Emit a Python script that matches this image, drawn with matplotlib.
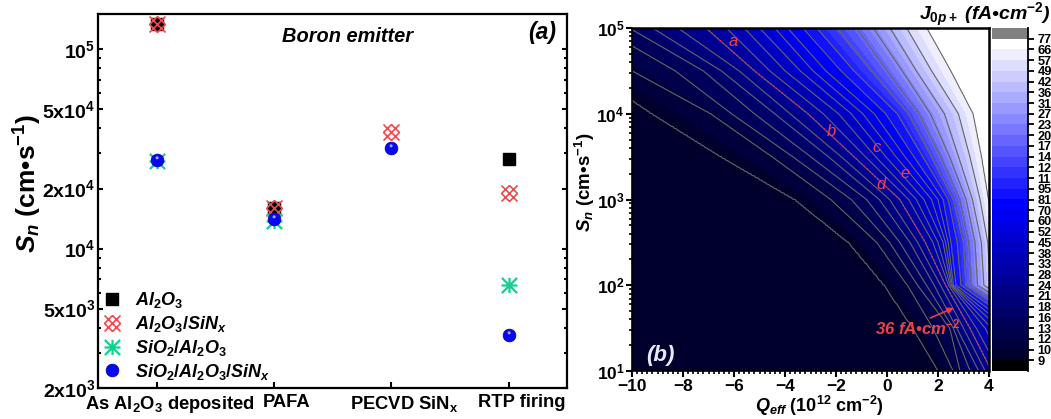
import numpy as np
import matplotlib
matplotlib.use("Agg")
import matplotlib.pyplot as plt
from matplotlib.path import Path
from matplotlib.ticker import FixedLocator, MultipleLocator, NullFormatter, FixedFormatter
from matplotlib.transforms import ScaledTranslation

plt.rcParams.update({
    "font.family": ["Liberation Sans", "DejaVu Sans"], "font.weight": "bold",
    "mathtext.fontset": "custom", "mathtext.rm": "Liberation Sans:bold",
    "mathtext.it": "Liberation Sans:italic:bold", "mathtext.bf": "Liberation Sans:bold",
    "mathtext.default": "rm",
})

# ---------- panel (a) data ----------
categories = [r"As Al$_2$O$_3$ deposited", "PAFA", r"PECVD SiN$_x$", "RTP firing"]
al2o3 = [133000, 16000, np.nan, 28000]
al2o3_sinx = [133000, 16000, 38500, 19000]
sio2_al2o3 = [27500, 13700, np.nan, 6600]
sio2_al2o3_sinx = [27800, 14000, 32000, 3680]
ytick_vals = [2e3, 5e3, 1e4, 2e4, 5e4, 1e5]
ytick_labels = [r"2x10$^3$", r"5x10$^3$", r"10$^4$", r"2x10$^4$", r"5x10$^4$", r"10$^5$"]

# ---------- panel (b) data: Qeff where contour lines 1..20 cross each Sn row ----------
log_sn_rows = [1, 1.5, 2, 2.5, 3, 3.5, 4, 4.5, 5]
q_s1_0 = [2.0, 2.6, 2.86, 3.26, 3.6, 3.85, 4.1, 4.4, 4.7, 5.0, 5.3, 5.6, 5.9, 6.2, 6.5, 6.8, 7.1, 7.4, 7.7, 8.0]
q_s1_5 = [1.02, 1.8, 2.47, 2.6, 2.73, 3.0, 3.25, 3.5, 3.85, 4.1, 4.4, 4.7, 5.0, 5.3, 5.6, 5.9, 6.2, 6.5, 6.8, 7.1]
q_s2_0 = [-0.1, 0.8, 1.2, 1.55, 1.85, 2.1, 2.3, 2.42, 2.48, 2.52, 2.56, 2.6, 2.7, 2.9, 3.1, 3.3, 3.55, 3.8, 4.05, 4.4]
q_s2_5 = [-1.5, -0.4, 0.1, 0.5, 0.9, 1.2, 1.5, 1.8, 2.0, 2.2, 2.3, 2.4, 2.5, 2.75, 3.0, 3.2, 3.45, 3.7, 3.95, 4.2]
q_s3_0 = [-3.6, -2.2, -1.4, -0.8, -0.3, 0.1, 0.5, 0.85, 1.15, 1.45, 1.75, 2.0, 2.2, 2.4, 2.6, 2.85, 3.1, 3.35, 3.65, 3.97]
q_s3_5 = [-6.5, -4.5, -3.7, -3.0, -2.3, -1.8, -1.3, -0.85, -0.45, -0.05, 0.35, 0.7, 1.05, 1.4, 1.75, 2.1, 2.45, 2.8, 3.25, 3.7]
q_s4_0 = [-9.2, -6.9, -6.1, -5.2, -4.4, -3.8, -3.1, -2.5, -1.9, -1.4, -0.95, -0.5, -0.05, 0.4, 0.85, 1.25, 1.7, 2.25, 2.8, 3.37]
q_s4_5 = [-11.7, -10.0, -8.3, -7.2, -6.5, -5.8, -5.2, -4.6, -4.0, -3.4, -2.9, -2.4, -1.8, -1.3, -0.6, 0.0, 0.6, 1.15, 1.75, 2.5]
q_s5_0 = [-14.0, -12.5, -11.2, -10.1, -9.2, -8.2, -7.1, -6.3, -5.6, -5.0, -4.4, -3.9, -3.3, -2.76, -1.97, -1.19, -0.54, 0.12, 0.77, 1.56]
line_numbers = list(range(1, 21))
cbar_labels = ["9", "10", "12", "13", "16", "18", "21", "24", "28", "33", "38", "45", "52", "60", "70", "81",
               "95", "11", "12", "14", "17", "20", "23", "27", "31", "36", "42", "49", "57", "66", "77"]

W, H = 1051, 419
fig = plt.figure(figsize=(W / 100, H / 100), dpi=100)


def box(x0, y0, x1, y1):
    return [x0 / W, 1 - y1 / H, (x1 - x0) / W, (y1 - y0) / H]


def ftext(x, y, s, **kw):
    kw.setdefault("ha", "center")
    kw.setdefault("va", "center")
    fig.text(x / W, 1 - y / H, s, **kw)


# ---------- markers ----------
def seg_path(segs):
    v, c = [], []
    for a, b in segs:
        v += [a, b]
        c += [Path.MOVETO, Path.LINETO]
    return Path(v, c)


lattice = seg_path([((-1, 0), (0, 1)), ((-.5, -.5), (.5, .5)), ((0, -1), (1, 0)),
                    ((-1, 0), (0, -1)), ((-.5, .5), (.5, -.5)), ((0, 1), (1, 0)),
                    ((-1, 1), (-.5, .5)), ((1, 1), (.5, .5)), ((-1, -1), (-.5, -.5)), ((1, -1), (.5, -.5))])
star = seg_path([((-1, -1), (1, 1)), ((-1, 1), (1, -1)), ((0, -1), (0, 1)), ((-1.05, 0), (1.05, 0))])
shine = Path.circle((-0.05, 0.35), 0.2)

RED, GREEN, BLUE = "#f2484e", "#12d08e", "#0808f0"
ax = fig.add_axes(box(98, 14, 567.5, 388))
xs = np.arange(len(categories))
h1, = ax.plot(xs, al2o3, "s", color="black", ms=8, ls="none", label=r"$\mathit{Al_2O_3}$")
h2, = ax.plot(xs, al2o3_sinx, marker=lattice, color=RED, mew=1.2, ms=11.5, ls="none", mfc="none",
              label=r"$\mathit{Al_2O_3/SiN_x}$")
h3, = ax.plot(xs, sio2_al2o3, marker=star, color=GREEN, mew=1.6, ms=11.5, ls="none",
              label=r"$\mathit{SiO_2/Al_2O_3}$")
h4, = ax.plot(xs, sio2_al2o3_sinx, "o", color=BLUE, mec="#0000b0", mew=0.5, ms=9.2, ls="none",
              label=r"$\mathit{SiO_2/Al_2O_3/SiN_x}$")
ax.plot(xs, sio2_al2o3_sinx, marker=shine, color="#a8a8ff", mew=0, ms=6, ls="none")
ax.set_yscale("log")
ax.set_xlim(-0.5, 3.5)
ax.set_ylim(2e3, 1.5e5)
ax.set_xticks(xs)
ax.set_xticklabels(categories, fontsize=13.2)
ax.yaxis.set_major_locator(FixedLocator(ytick_vals))
ax.yaxis.set_major_formatter(FixedFormatter(ytick_labels))
ax.yaxis.set_minor_locator(FixedLocator([3e3, 4e3, 6e3, 7e3, 8e3, 9e3, 3e4, 4e4, 6e4, 7e4, 8e4, 9e4]))
ax.yaxis.set_minor_formatter(NullFormatter())
ax.tick_params(axis="y", which="major", direction="in", right=True, length=3.5, width=1.5, labelsize=14, pad=2)
ax.tick_params(axis="y", which="minor", direction="in", right=True, length=2.5, width=1.5)
ax.tick_params(axis="x", direction="in", length=4.5, width=1.5, pad=4)
offset = ScaledTranslation(13 / 100, 0, fig.dpi_scale_trans)
for lab in ax.get_xticklabels():
    lab.set_transform(lab.get_transform() + offset)
for t in ax.yaxis.get_major_ticks():
    if t.get_loc() in (1e4, 1e5):
        t.tick1line.set_markersize(6)
        t.tick2line.set_markersize(6)
for s in ax.spines.values():
    s.set_linewidth(1.6)
leg = ax.legend(handles=[h1, h2, h3, h4], loc="lower left", bbox_to_anchor=(0.0, 0.012), frameon=False,
                fontsize=13, labelspacing=0.21, handletextpad=0.55, handlelength=1.4, borderpad=0.1,
                borderaxespad=0)
ftext(28, 183, r"$\mathit{S_n}$ (cm•s$^{-1}$)", fontsize=19, rotation=90)
ftext(348, 37, "Boron emitter", fontsize=14.4, style="italic")
ftext(542, 33, "(a)", fontsize=16.5, style="italic")

# ---------- panel (b) ----------
rows = np.array([q_s1_0, q_s1_5, q_s2_0, q_s2_5, q_s3_0, q_s3_5, q_s4_0, q_s4_5, q_s5_0])
log_fine = np.linspace(1, 5, 161)
q_grid = np.linspace(-10, 4, 281)
# each contour line runs straight between the rows where it was read
crossings = np.array([np.interp(log_fine, log_sn_rows, rows[:, j]) for j in range(rows.shape[1])]).T
field = np.array([np.interp(q_grid, [r[0] - 4] + list(r) + [r[-1] + 1], [0.7] + line_numbers + [21])
                  for r in crossings])
sn = 10.0 ** log_fine


def band_colour(n):
    if n <= 15:
        return (0, 0, (45 + 210 * (n - 1) / 14) / 255)
    t = (n - 15) / 15
    return (t, t, 1)


bands = np.arange(1, 31)
band_levels = list(np.interp(bands, [0, 1.5, 17, 30], [0, 1, 14, 20])) + [100]
band_colours = [band_colour(n) for n in bands]

axb = fig.add_axes(box(632, 28, 989, 371))
axb.contourf(q_grid, sn, field, levels=band_levels, colors=band_colours)
axb.contour(q_grid, sn, field, levels=line_numbers, colors="#666660", linewidths=0.8)
axb.contour(q_grid, sn, field, levels=[7.01], colors="#e0305a", linewidths=1.0, linestyles=":")
axb.set_yscale("log")
axb.set_xlim(-10, 4)
axb.set_ylim(10, 1e5)
axb.set_xticks(np.arange(-10, 5, 2))
axb.xaxis.set_minor_locator(MultipleLocator(0.2))
axb.yaxis.set_minor_locator(FixedLocator([m * 10 ** e for e in range(1, 5) for m in range(2, 10)]))
axb.yaxis.set_minor_formatter(NullFormatter())
axb.tick_params(axis="y", which="major", direction="out", length=4, width=1.5, labelsize=12.5, pad=1.5)
axb.tick_params(axis="x", which="major", direction="out", length=4, width=1.5, labelsize=12.5, pad=1.5)
axb.tick_params(axis="both", which="minor", direction="out", length=2, width=1.2)
axb.spines["left"].set_linewidth(1.2)
axb.spines["bottom"].set_linewidth(1.2)
axb.spines["top"].set_linewidth(1.8)
axb.spines["right"].set_linewidth(1.8)
axb.annotate("", xy=(2.72, 56), xytext=(1.6, 40.4),
             arrowprops=dict(arrowstyle="-|>", color="#ee3b45", lw=1.2, mutation_scale=9))
for s, x, y in [("a", 733, 41), ("b", 831, 132), ("c", 877, 148), ("d", 881, 184), ("e", 905, 174)]:
    ftext(x, y, s, fontsize=12, style="italic", color="#f0404a", fontweight="normal")
ftext(918, 327, r"36 fA•cm$^{\mathit{-2}}$", fontsize=12, style="italic", color="#f0404a")
ftext(660, 355, "(b)", fontsize=16, style="italic", color="#e8e8ff")
ftext(585, 182, r"$\mathit{S_n}$ (cm•s$^{-1}$)", fontsize=13.5, rotation=90)
ftext(819, 406, r"$\mathit{Q_{eff}}$ (10$^{12}$ cm$^{-2}$)", fontsize=13)
ftext(985, 15, r"$\mathit{J_{0p+}}$ (fA•cm$^{-2}$)", fontsize=14, style="italic")

# ---------- colour bar ----------
axc = fig.add_axes(box(992, 28, 1028, 371))
axc.barh(0.5, 1, height=1, color="black")
axc.barh(bands + 0.5, 1, height=1, color=band_colours)
axc.barh(31.5, 1, height=1, color="#808080")
axc.set_xlim(0, 1)
axc.set_ylim(0, 32)
axc.set_xticks([])
axc.yaxis.tick_right()
axc.set_yticks(np.arange(1, 32))
axc.set_yticklabels(cbar_labels)
axc.tick_params(axis="y", direction="out", length=4, width=1.3, labelsize=9.2, pad=3)
for s in axc.spines.values():
    s.set_visible(False)
axc.spines["right"].set_visible(True)
axc.spines["right"].set_linewidth(1.3)

fig.savefig("out.png", dpi=100)
